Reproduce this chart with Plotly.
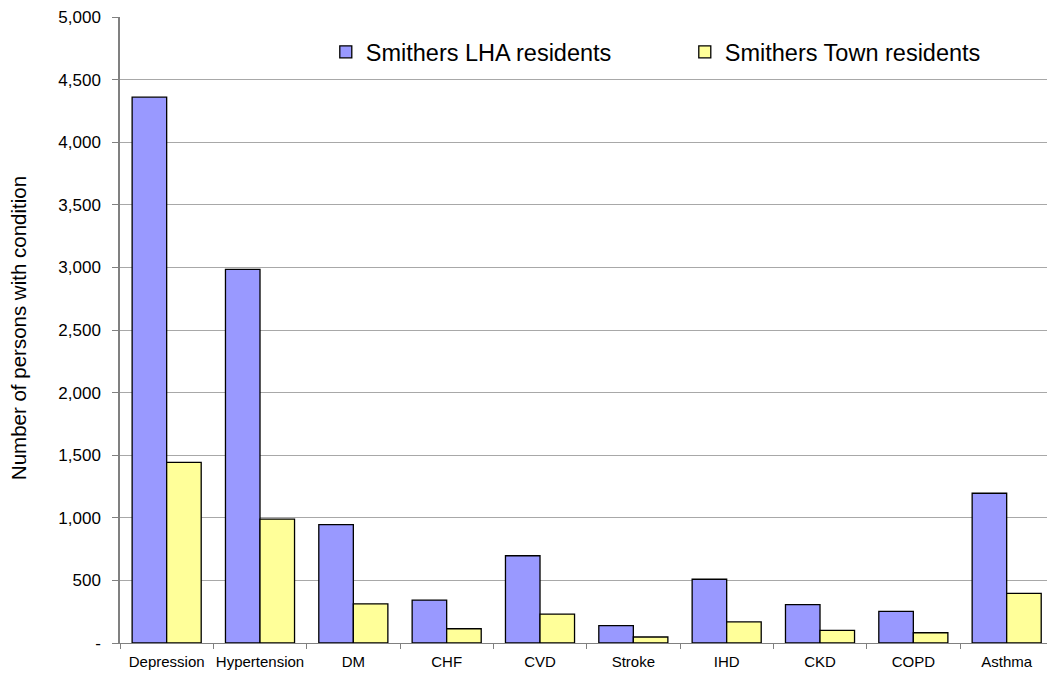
import plotly.graph_objects as go

categories = ["Depression", "Hypertension", "DM", "CHF", "CVD", "Stroke", "IHD", "CKD", "COPD", "Asthma"]
lha_residents = [4360, 2985, 945, 343, 697, 138, 509, 306, 253, 1196]
town_residents = [1442, 990, 313, 114, 231, 48, 168, 101, 82, 397]
series_names = ["Smithers LHA residents", "Smithers Town residents"]
y_tickvals = [0, 500, 1000, 1500, 2000, 2500, 3000, 3500, 4000, 4500, 5000]
y_ticktext = ["-", "500", "1,000", "1,500", "2,000", "2,500", "3,000", "3,500", "4,000", "4,500", "5,000"]
y_title = "Number of persons with condition"

FONT = "Liberation Sans, Arial, sans-serif"

fig = go.Figure()
fig.add_trace(go.Bar(x=categories, y=lha_residents, name=series_names[0],
                     marker=dict(color="#9999FF", line=dict(color="#000000", width=1.3))))
fig.add_trace(go.Bar(x=categories, y=town_residents, name=series_names[1],
                     marker=dict(color="#FFFF99", line=dict(color="#000000", width=1.3))))

fig.update_layout(
    width=1047, height=675,
    margin=dict(l=120, r=0, t=17, b=32, autoexpand=False),
    paper_bgcolor="white", plot_bgcolor="white",
    barmode="group", bargap=0.26, bargroupgap=0,
    font=dict(family=FONT, color="#000000"),
    showlegend=True,
    legend=dict(orientation="h", x=0.222, y=0.944, xanchor="left", yanchor="middle",
                font=dict(size=23.5, family=FONT), bgcolor="rgba(0,0,0,0)",
                itemwidth=30, entrywidth=314, entrywidthmode="pixels",
                traceorder="normal", itemclick=False),
)
fig.add_annotation(text=y_title, textangle=-90, xref="paper", yref="paper",
                   x=-0.110, y=0.503, xanchor="center", yanchor="middle",
                   showarrow=False, font=dict(size=20.5, family=FONT, color="#000000"))
fig.update_xaxes(
    range=[-0.5, 9.432], tickson="boundaries", ticks="outside", ticklen=5,
    tickcolor="#808080", showline=True, linecolor="#808080", linewidth=1,
    showgrid=False, tickangle=0, ticklabelstandoff=5,
    tickfont=dict(size=15, family=FONT), fixedrange=True,
)
fig.update_yaxes(
    range=[0, 5000], tickvals=y_tickvals, ticktext=y_ticktext,
    ticks="outside", ticklen=6, tickcolor="#808080", ticklabelstandoff=8,
    showline=True, linecolor="#808080", linewidth=1.5,
    showgrid=True, gridcolor="#A8A8A8", gridwidth=1, zeroline=False,
    tickfont=dict(size=17, family=FONT),
    fixedrange=True,
)

fig.write_html("out.html")
